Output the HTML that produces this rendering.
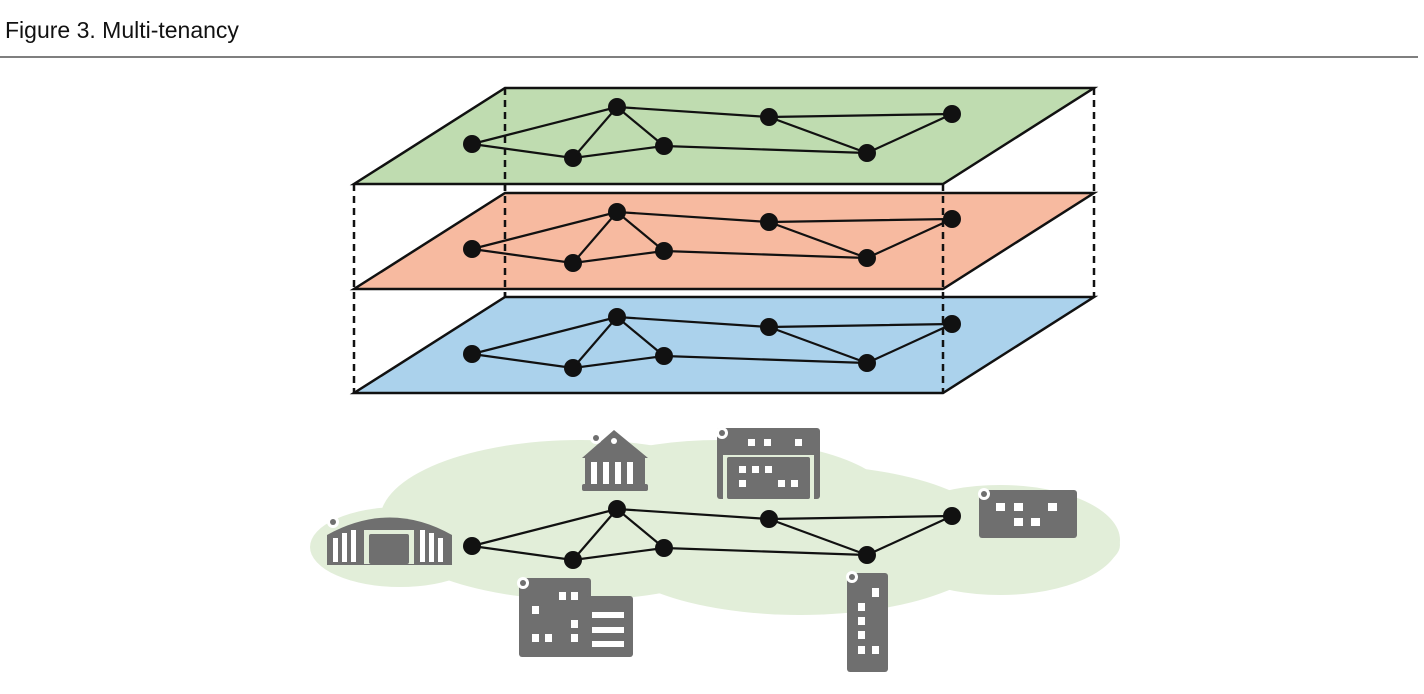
<!DOCTYPE html>
<html><head><style>
body{margin:0;background:#fff;width:1424px;height:689px;overflow:hidden;font-family:"Liberation Sans",sans-serif}
</style></head><body>
<svg width="1424" height="689" xmlns="http://www.w3.org/2000/svg">
<text x="5" y="38" font-size="23" font-family="Liberation Sans, sans-serif" fill="#111">Figure 3. Multi-tenancy</text>
<line x1="0" y1="57" x2="1418" y2="57" stroke="#333" stroke-width="1.2"/>
<g stroke="#111" stroke-width="2.5" stroke-dasharray="7,5">
<line x1="505" y1="88" x2="505" y2="297"/>
<line x1="1094" y1="88" x2="1094" y2="297"/>
</g>
<polygon points="505,297 1094,297 943,393 354,393" fill="#abd2ec" stroke="#111" stroke-width="2.5"/>
<polygon points="505,193 1094,193 943,289 354,289" fill="#f7baa0" stroke="#111" stroke-width="2.5"/>
<polygon points="505,88 1094,88 943,184 354,184" fill="#bfdcb0" stroke="#111" stroke-width="2.5"/>
<g stroke="#111" stroke-width="2.5" stroke-dasharray="7,5">
<line x1="505" y1="88" x2="505" y2="297"/>
<line x1="354" y1="184" x2="354" y2="393"/>
<line x1="943" y1="184" x2="943" y2="393"/>
</g>
<!-- cloud -->
<g fill="#e2eed9">
<ellipse cx="400" cy="547" rx="90" ry="40"/>
<ellipse cx="580" cy="520" rx="200" ry="80"/>
<ellipse cx="720" cy="500" rx="170" ry="60"/>
<ellipse cx="800" cy="540" rx="200" ry="75"/>
<ellipse cx="1000" cy="540" rx="120" ry="55"/>
<ellipse cx="1050" cy="545" rx="70" ry="30"/>
</g>
<defs>
<g id="net" stroke="#111" stroke-width="2.2" fill="none">
<polyline points="472,144 617,107 769,117 952,114 867,153 664,146 573,158 472,144"/>
<polyline points="573,158 617,107 664,146"/>
<line x1="769" y1="117" x2="867" y2="153"/>
<g fill="#111" stroke="none">
<circle cx="472" cy="144" r="9"/><circle cx="573" cy="158" r="9"/><circle cx="617" cy="107" r="9"/><circle cx="664" cy="146" r="9"/><circle cx="769" cy="117" r="9"/><circle cx="867" cy="153" r="9"/><circle cx="952" cy="114" r="9"/>
</g></g>
</defs>
<use href="#net"/>
<use href="#net" y="105"/>
<use href="#net" y="210"/>
<use href="#net" y="402"/>
<g fill="#6f6f6f">
<!-- bank -->
<polygon points="582,458 614,430 648,458"/>
<rect x="585" y="458" width="60" height="28"/>
<rect x="582" y="484" width="66" height="7" rx="2"/>
<!-- hangar -->
<path d="M327,535 Q390,500 452,535 L452,565 L327,565Z"/>
<!-- office big -->
<rect x="717" y="428" width="103" height="71" rx="3"/>
<!-- right building -->
<rect x="979" y="490" width="98" height="48" rx="3"/>
<!-- bottom building -->
<rect x="519" y="578" width="72" height="79" rx="3"/>
<rect x="585" y="596" width="48" height="61" rx="3"/>
<!-- tower -->
<rect x="847" y="573" width="41" height="99" rx="3"/>
</g>
<g fill="#fff">
<rect x="591" y="462" width="6" height="22"/><rect x="603" y="462" width="6" height="22"/><rect x="615" y="462" width="6" height="22"/><rect x="627" y="462" width="6" height="22"/>
<rect x="333" y="538" width="5" height="24"/><rect x="342" y="533" width="5" height="29"/><rect x="351" y="530" width="5" height="32"/>
<rect x="420" y="530" width="5" height="32"/><rect x="429" y="533" width="5" height="29"/><rect x="438" y="538" width="5" height="24"/>
<rect x="364" y="530" width="50" height="34" fill="#e2eed9"/>
<rect x="723" y="455" width="91" height="44" fill="#e2eed9"/>
<rect x="748" y="439" width="7" height="7"/><rect x="764" y="439" width="7" height="7"/><rect x="795" y="439" width="7" height="7"/>
<rect x="996" y="503" width="9" height="8"/><rect x="1014" y="503" width="9" height="8"/><rect x="1048" y="503" width="9" height="8"/><rect x="1014" y="518" width="9" height="8"/><rect x="1031" y="518" width="9" height="8"/>
<rect x="559" y="592" width="7" height="8"/><rect x="571" y="592" width="7" height="8"/><rect x="532" y="606" width="7" height="8"/><rect x="571" y="620" width="7" height="8"/><rect x="532" y="634" width="7" height="8"/><rect x="545" y="634" width="7" height="8"/><rect x="571" y="634" width="7" height="8"/>
<rect x="592" y="612" width="32" height="6"/><rect x="592" y="627" width="32" height="6"/><rect x="592" y="641" width="32" height="6"/>
<rect x="872" y="588" width="7" height="9"/><rect x="858" y="603" width="7" height="8"/><rect x="858" y="617" width="7" height="8"/><rect x="858" y="631" width="7" height="8"/><rect x="858" y="646" width="7" height="8"/><rect x="872" y="646" width="7" height="8"/>
</g>
<g fill="#6f6f6f">
<rect x="369" y="534" width="40" height="30" rx="2"/>
<rect x="727" y="457" width="83" height="42" rx="2"/>
</g>
<g fill="#fff">
<rect x="739" y="466" width="7" height="7"/><rect x="752" y="466" width="7" height="7"/><rect x="765" y="466" width="7" height="7"/><rect x="739" y="480" width="7" height="7"/><rect x="778" y="480" width="7" height="7"/><rect x="791" y="480" width="7" height="7"/>
<circle cx="596" cy="438" r="6"/><circle cx="333" cy="522" r="6"/><circle cx="722" cy="433" r="6"/><circle cx="984" cy="494" r="6"/><circle cx="523" cy="583" r="6"/><circle cx="852" cy="577" r="6"/>
</g>
<g fill="#6f6f6f">
<circle cx="596" cy="438" r="3"/><circle cx="333" cy="522" r="3"/><circle cx="722" cy="433" r="3"/><circle cx="984" cy="494" r="3"/><circle cx="523" cy="583" r="3"/><circle cx="852" cy="577" r="3"/>
<circle cx="614" cy="441" r="3" fill="#fff"/>
</g>
</svg>
</body></html>
